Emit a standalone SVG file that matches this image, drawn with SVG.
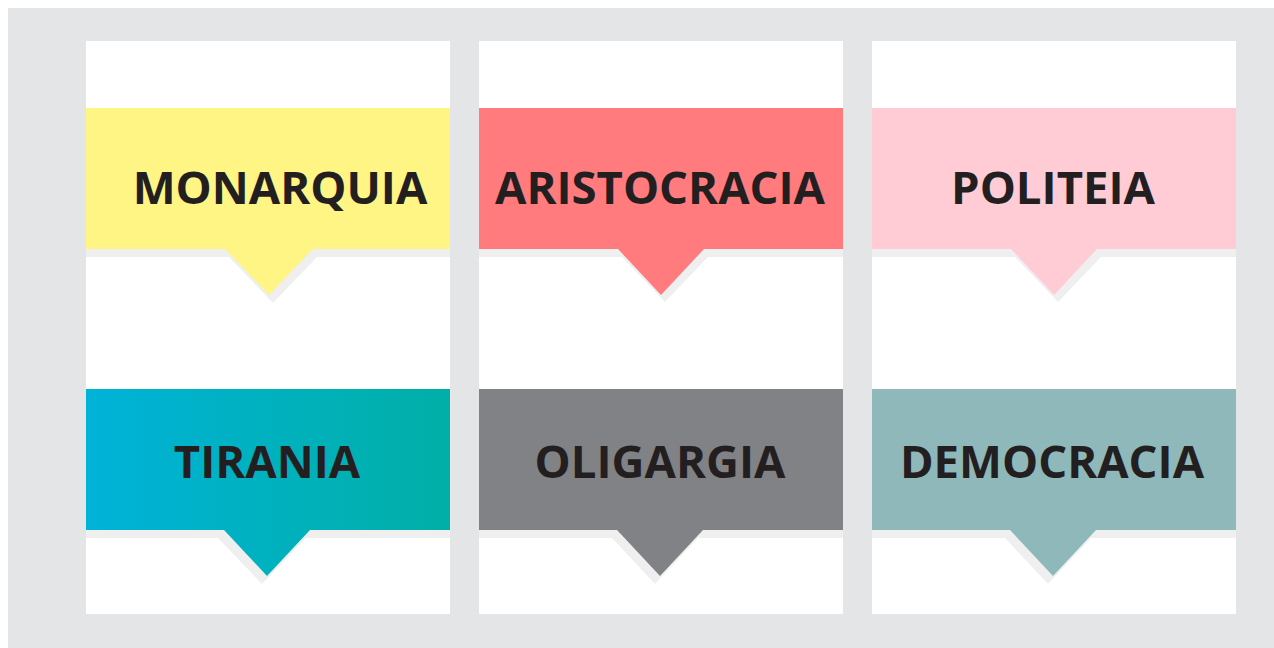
<svg xmlns="http://www.w3.org/2000/svg" width="1274" height="648" viewBox="0 0 1274 648">
<style>
.panel{fill:#ffffff}
.shadow{fill:#efefef}
.lbl{font-family:"Open Sans","Liberation Sans",sans-serif;font-weight:700;font-size:45.5px;fill:#231f20;text-anchor:middle}
</style>
<defs>
<linearGradient id="tealGrad" x1="0" y1="0" x2="1" y2="0">
<stop offset="0" stop-color="#00b3d8"/>
<stop offset="1" stop-color="#00afa6"/>
</linearGradient>
</defs>
<rect x="0" y="0" width="1274" height="648" fill="#ffffff"/>
<rect x="8" y="8" width="1266" height="640" fill="#e4e5e6"/>
<rect class="panel" x="86" y="41" width="364" height="573"/>
<rect class="panel" x="479" y="41" width="364" height="573"/>
<rect class="panel" x="872" y="41" width="364" height="573"/>

<g id="monarquia">
<polygon class="shadow" points="86,249 450,249 450,257 317,257 273,303 229,257 86,257"/>
<polygon fill="#fff585" points="86,108 450,108 450,249 313,249 269,295 225,249 86,249"/>
<text class="lbl" x="280" y="204">MONARQUIA</text>
</g>
<g id="aristocracia">
<polygon class="shadow" points="479,249 843,249 843,257 708,257 665,302 622,257 479,257"/>
<polygon fill="#ff7b7e" points="479,108 843,108 843,249 704,249 661,295 618,249 479,249"/>
<text class="lbl" x="660" y="204">ARISTOCRACIA</text>
</g>
<g id="politeia">
<polygon class="shadow" points="872,249 1236,249 1236,257 1101,257 1058,302 1015,257 872,257"/>
<polygon fill="#ffccd5" points="872,108 1236,108 1236,249 1097,249 1054,295 1011,249 872,249"/>
<text class="lbl" x="1053" y="204">POLITEIA</text>
</g>
<g id="tirania">
<polygon class="shadow" points="86,530 450,530 450,538 306,538 262,584 218,538 86,538"/>
<polygon fill="url(#tealGrad)" points="86,389 450,389 450,530 310,530 267,576 224,530 86,530"/>
<text class="lbl" x="267" y="478">TIRANIA</text>
</g>
<g id="oligargia">
<polygon class="shadow" points="479,530 843,530 843,538 698,538 655,584 612,538 479,538"/>
<polygon fill="#818285" points="479,389 843,389 843,530 703,530 660,576 617,530 479,530"/>
<text class="lbl" x="660" y="478">OLIGARGIA</text>
</g>
<g id="democracia">
<polygon class="shadow" points="872,530 1236,530 1236,538 1091,538 1048,584 1005,538 872,538"/>
<polygon fill="#8fb8ba" points="872,389 1236,389 1236,530 1096,530 1053,576 1010,530 872,530"/>
<text class="lbl" x="1052" y="478">DEMOCRACIA</text>
</g>
<g id="connectors"></g>
</svg>
